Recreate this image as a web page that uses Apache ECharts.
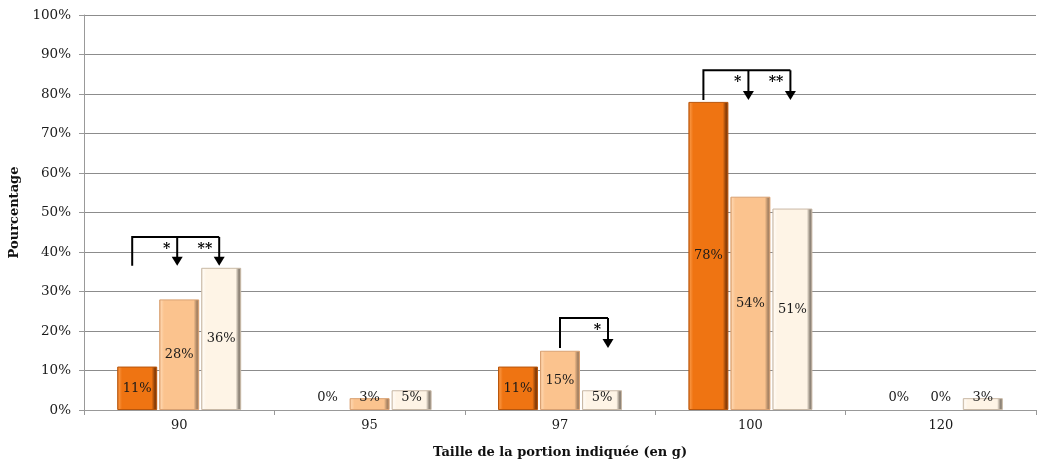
<!DOCTYPE html>
<html>
<head>
<meta charset="utf-8">
<script src="https://cdn.jsdelivr.net/npm/echarts@6/dist/echarts.min.js"></script>
<style>
  html, body { margin: 0; padding: 0; background: #fff; }
  #chart { width: 1040px; height: 468px; }
</style>
</head>
<body>
<div id="chart"></div>
<script>
// Portion sizes (g) and share of answers per group (%)
const categories = ['90', '95', '97', '100', '120'];
const groupA = [11, 0, 11, 78, 0];
const groupB = [28, 3, 15, 54, 0];
const groupC = [36, 5, 5, 51, 3];
const yTicks = [0, 10, 20, 30, 40, 50, 60, 70, 80, 90, 100];

// Significance brackets: category, first bar, compared bars, stars
const brackets = [
  { cat: 0, from: 0, to: [1, 2], stars: ['*', '**'], top: 43.8, base: 36.5 },
  { cat: 2, from: 1, to: [2], stars: ['*'], top: 23.3, base: 15.7 },
  { cat: 3, from: 0, to: [1, 2], stars: ['*', '**'], top: 86.0, base: 78.5 }
];

const FONT = '"DejaVu Serif", "Liberation Serif", serif';

function barGradient(edgeL, light, base, dark) {
  return {
    type: 'linear', x: 0, y: 0, x2: 1, y2: 0,
    colorStops: [
      { offset: 0, color: edgeL },
      { offset: 0.05, color: light },
      { offset: 0.12, color: base },
      { offset: 0.86, color: base },
      { offset: 0.94, color: dark },
      { offset: 1, color: dark }
    ]
  };
}

const styles = [
  { fill: barGradient('#d9620c', '#f7903a', '#ef7412', '#8a3e08'), border: '#b8560c' },
  { fill: barGradient('#e8a670', '#fdd3aa', '#fbc38e', '#a98463'), border: '#d9a172' },
  { fill: barGradient('#e6d9c9', '#fffaf3', '#fef4e6', '#8f8579'), border: '#c9b9a6' }
];

function makeData(values) {
  return values.map(v => {
    const item = { value: v };
    if (v < 8) {
      item.label = { position: 'insideBottom', distance: 6 };
    }
    if (v === 0) {
      item.itemStyle = { borderWidth: 0, color: 'rgba(0,0,0,0)' };
    }
    return item;
  });
}

function makeSeries(name, values, st) {
  return {
    name: name,
    type: 'bar',
    data: makeData(values),
    barWidth: 40,
    barGap: '5%',
    itemStyle: { color: st.fill, borderColor: st.border, borderWidth: 1 },
    label: {
      show: true,
      position: 'inside',
      formatter: p => p.value + '%',
      color: '#1a1a1a',
      fontFamily: FONT,
      fontSize: 13
    }
  };
}

const chart = echarts.init(document.getElementById('chart'), null, { renderer: 'canvas' });

chart.setOption({
  animation: false,
  backgroundColor: '#fff',
  grid: { left: 84, right: 4, top: 15, bottom: 58, containLabel: false },
  xAxis: {
    type: 'category',
    data: categories,
    name: 'Taille de la portion indiquée (en g)',
    nameLocation: 'middle',
    nameGap: 36,
    nameTextStyle: { fontFamily: FONT, fontWeight: 'bold', fontSize: 13, color: '#111' },
    axisLine: { lineStyle: { color: '#999', width: 1 } },
    axisTick: { show: true, alignWithLabel: false, length: 5, lineStyle: { color: '#999' } },
    axisLabel: { fontFamily: FONT, fontSize: 13, color: '#1a1a1a', margin: 9 }
  },
  yAxis: {
    type: 'value',
    min: yTicks[0],
    max: yTicks[yTicks.length - 1],
    interval: 10,
    name: 'Pourcentage',
    nameLocation: 'middle',
    nameGap: 63,
    nameTextStyle: { fontFamily: FONT, fontWeight: 'bold', fontSize: 13, color: '#111' },
    axisLine: { show: true, lineStyle: { color: '#999' } },
    axisTick: { show: true, length: 5, lineStyle: { color: '#999' } },
    axisLabel: { fontFamily: FONT, fontSize: 13.5, color: '#1a1a1a', margin: 13, formatter: v => v + '%' },
    splitLine: { lineStyle: { color: '#8c8c8c', width: 1 } }
  },
  series: [
    makeSeries('A', groupA, styles[0]),
    makeSeries('B', groupB, styles[1]),
    makeSeries('C', groupC, styles[2])
  ]
});

// Bar centre in pixels for a category and a bar index (3 bars, 40px wide, 2px gap)
function barX(cat, idx) {
  const cx = chart.convertToPixel({ xAxisIndex: 0 }, categories[cat]);
  return cx + (idx - 1) * 42;
}
function yPix(v) {
  return chart.convertToPixel({ yAxisIndex: 0 }, v);
}

const elements = [];
brackets.forEach(b => {
  const x0 = barX(b.cat, b.from) - (b.from === 0 ? 5 : 0);
  const yTop = yPix(b.top);
  const yBase = yPix(b.base);
  const targets = b.to.map(i => barX(b.cat, i) + (b.from === 0 ? -2 : 6));
  const xEnd = targets[targets.length - 1];
  elements.push({
    type: 'polyline',
    shape: { points: [[x0, yBase], [x0, yTop], [xEnd, yTop]] },
    style: { stroke: '#000', lineWidth: 2, fill: null }
  });
  targets.forEach((tx, k) => {
    const tip = yBase;
    elements.push({
      type: 'line',
      shape: { x1: tx, y1: yTop, x2: tx, y2: tip - 7 },
      style: { stroke: '#000', lineWidth: 2 }
    });
    elements.push({
      type: 'polygon',
      shape: { points: [[tx - 5.5, tip - 9], [tx + 5.5, tip - 9], [tx, tip]] },
      style: { fill: '#000' }
    });
    elements.push({
      type: 'text',
      x: tx - 7,
      y: yTop + 12,
      style: {
        text: b.stars[k], fill: '#000', font: 'bold 14px ' + FONT,
        align: 'right', verticalAlign: 'middle'
      }
    });
  });
});
chart.setOption({ graphic: { elements: elements } });
</script>
</body>
</html>
